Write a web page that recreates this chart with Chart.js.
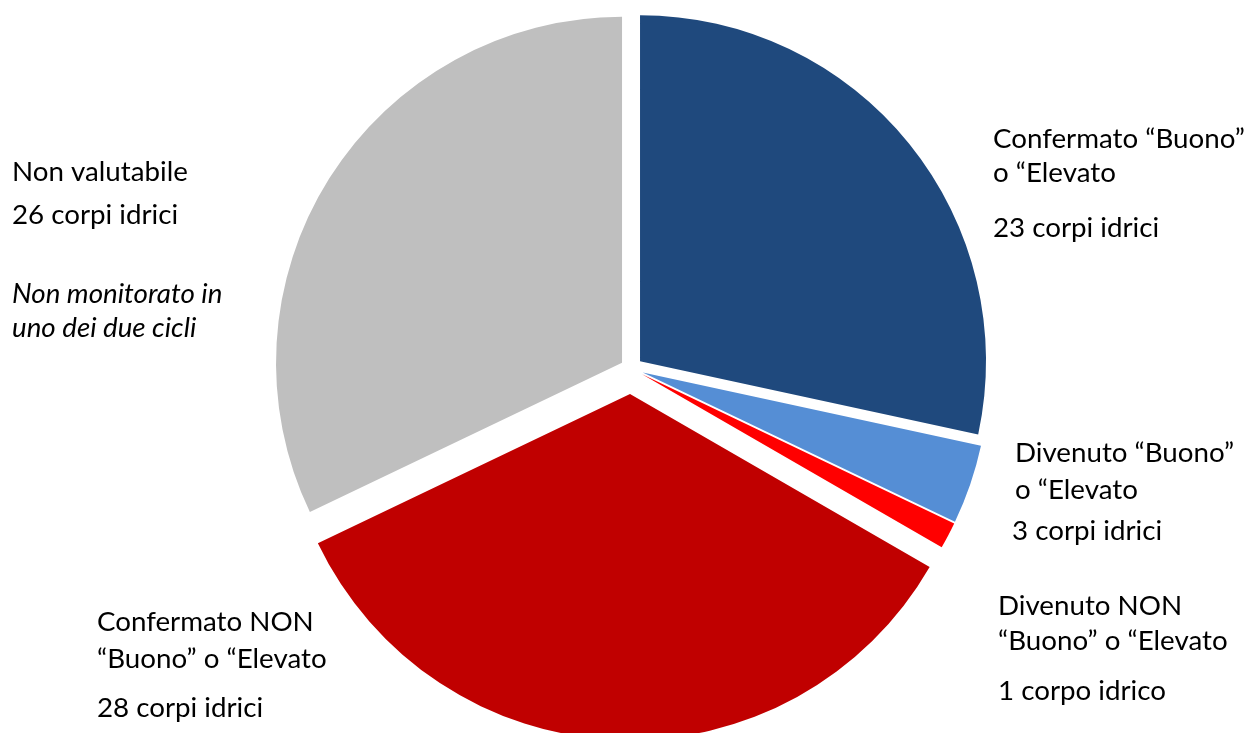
<!DOCTYPE html>
<html><head><meta charset="utf-8">
<script src="https://cdn.jsdelivr.net/npm/chart.js@4"></script>
<style>html,body{margin:0;padding:0;background:#fff}#wrap{width:1247px;height:733px;position:relative}</style>
</head><body><div id="wrap"><canvas id="c"></canvas></div>
<script>
// ---- data ----
const categories = ['Confermato “Buono” o “Elevato', 'Divenuto “Buono” o “Elevato', 'Divenuto NON “Buono” o “Elevato', 'Confermato NON “Buono” o “Elevato', 'Non valutabile'];
const counts = [23, 3, 1, 28, 26];
const nameLines = [['Confermato “Buono”', 'o “Elevato'], ['Divenuto “Buono”', 'o “Elevato'], ['Divenuto NON', '“Buono” o “Elevato'], ['Confermato NON', '“Buono” o “Elevato'], ['Non valutabile']];
const countLabels = ['23 corpi idrici', '3 corpi idrici', '1 corpo idrico', '28 corpi idrici', '26 corpi idrici'];
const noteLines = ['Non monitorato in', 'uno dei due cicli'];

// ---- style ----
const colors = ['#1F497D', '#558ED5', '#FF0000', '#C00000', '#BFBFBF'];
const explode = [11.6, 12.5, 12.5, 25.5, 10.6];
const labelLayout = [
  {x: 993, names: [148, 182], cx: 993, cy: 237},
  {x: 1015, names: [462, 499], cx: 1012, cy: 540},
  {x: 998, names: [615, 650], cx: 998, cy: 700},
  {x: 97, names: [631, 668], cx: 97, cy: 717},
  {x: 12, names: [181], cx: 12, cy: 224, note: [303, 337]}
];
const FONT = 'Lato, "Open Sans", sans-serif';

const explodePlugin = {
  id: 'explode',
  afterDatasetsUpdate(chart) {
    const meta = chart.getDatasetMeta(0);
    meta.data.forEach((arc, i) => {
      const mid = (arc.startAngle + arc.endAngle) / 2;
      arc.x += Math.cos(mid) * explode[i];
      arc.y += Math.sin(mid) * explode[i];
    });
  }
};

const labelPlugin = {
  id: 'labels',
  afterDraw(chart) {
    const ctx = chart.ctx;
    ctx.save();
    ctx.font = '100px ' + FONT;
    const w = ctx.measureText('Confermato “Buono”').width;
    const size = 100 * 252 / w;
    ctx.fillStyle = '#000';
    ctx.textBaseline = 'alphabetic';
    ctx.textAlign = 'left';
    labelLayout.forEach((L, i) => {
      ctx.font = size.toFixed(2) + 'px ' + FONT;
      nameLines[i].forEach((t, j) => ctx.fillText(t, L.x, L.names[j]));
      ctx.fillText(countLabels[i], L.cx, L.cy);
      if (L.note) {
        ctx.font = 'italic ' + size.toFixed(2) + 'px ' + FONT;
        noteLines.forEach((t, j) => ctx.fillText(t, L.x, L.note[j]));
      }
    });
    ctx.restore();
  }
};

new Chart(document.getElementById('c'), {
  type: 'pie',
  data: {
    labels: categories,
    datasets: [{
      data: counts,
      backgroundColor: colors,
      borderWidth: 0,
      hoverOffset: 0
    }]
  },
  options: {
    responsive: true,
    maintainAspectRatio: false,
    animation: false,
    events: [],
    radius: 346,
    layout: {padding: {left: 15, right: 0, top: 4, bottom: 0}},
    plugins: {legend: {display: false}, tooltip: {enabled: false}}
  },
  plugins: [explodePlugin, labelPlugin]
});
</script>
</body></html>
